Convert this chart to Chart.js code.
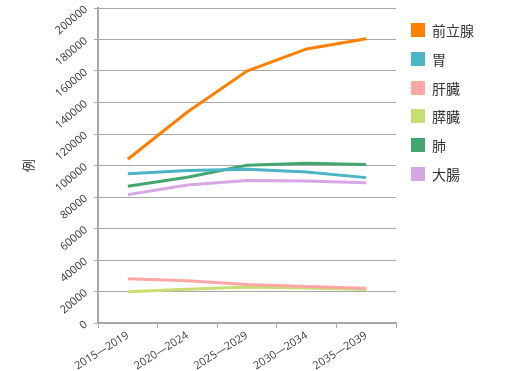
<!DOCTYPE html>
<html>
<head>
<meta charset="utf-8">
<script src="https://cdn.jsdelivr.net/npm/chart.js@4"></script>
<style>
  body { margin: 0; background: #fff; }
  #wrap { position: relative; width: 506px; height: 371px; }
  #legend { position: absolute; left: 411px; top: 22px; margin: 0; padding: 0; list-style: none;
            font-family: "Noto Sans CJK JP", "Noto Sans", sans-serif; font-size: 14px; color: #333; }
  #legend li { height: 28.8px; display: flex; align-items: flex-start; }
  #legend span.box { width: 14px; height: 14px; margin-right: 7px; margin-top: 1px; }
  #legend span.txt { line-height: 16px; }
</style>
</head>
<body>
<div id="wrap">
  <canvas id="chart" width="506" height="371"></canvas>
  <ul id="legend"></ul>
</div>
<script>
// categories and series (cases per period)
const periods = ['2015\u20142019', '2020\u20142024', '2025\u20142029', '2030\u20142034', '2035\u20142039'];
const seriesNames = ['前立腺', '胃', '肝臓', '膵臓', '肺', '大腸'];
const seriesColors = ['#ff8000', '#4bb5c5', '#ffa7a7', '#c6de72', '#44a66f', '#d7a7e5'];

const prostate = [104000, 134000, 160000, 174000, 180500];
const stomach = [94800, 96800, 97600, 95900, 92300];
const liver = [28100, 26900, 24500, 23100, 22000];
const pancreas = [19900, 21400, 22900, 22200, 21300];
const lung = [86800, 92500, 100200, 101400, 100700];
const colon = [81500, 87600, 90400, 90200, 89100];

const yTicks = { min: 0, max: 200000, step: 20000 };

const seriesValues = [prostate, stomach, liver, pancreas, lung, colon];
const gridColor = '#a8a8a8';
const tickFont = { family: '"Open Sans", sans-serif', size: 11 };

const ctx = document.getElementById('chart').getContext('2d');
const chart = new Chart(ctx, {
  type: 'line',
  data: {
    labels: periods,
    datasets: seriesNames.map((name, i) => ({
      label: name,
      data: seriesValues[i],
      borderColor: seriesColors[i],
      backgroundColor: seriesColors[i],
      borderWidth: 3,
      pointRadius: 0,
      tension: 0,
      fill: false
    }))
  },
  options: {
    responsive: false,
    animation: false,
    layout: { padding: { top: 8, right: 110, left: 0, bottom: 0 } },
    plugins: {
      legend: { display: false },
      tooltip: { enabled: false }
    },
    scales: {
      x: {
        offset: true,
        grid: { offset: true, drawOnChartArea: false, color: gridColor, tickLength: 5, lineWidth: 1 },
        border: { color: gridColor, width: 2 },
        ticks: { minRotation: 32, maxRotation: 32, color: '#3a3a3a', font: tickFont, padding: 1 },
        afterFit: scale => {
          scale.height = 48;
          scale.paddingLeft = 0;
          scale.paddingRight = 0;
        }
      },
      y: {
        min: yTicks.min,
        max: yTicks.max,
        grid: { color: gridColor, tickLength: 4, lineWidth: 1 },
        border: { color: gridColor, width: 2 },
        ticks: {
          stepSize: yTicks.step,
          minRotation: 40,
          maxRotation: 40,
          color: '#3a3a3a',
          font: tickFont,
          padding: 8,
          callback: value => String(value)
        },
        title: {
          display: true,
          text: '例',
          color: '#333',
          font: { family: '"Noto Sans CJK JP", sans-serif', size: 13 },
          padding: { top: 20, bottom: 0 }
        },
        afterFit: scale => {
          scale.width = 98;
          scale.paddingTop = 0;
          scale.paddingBottom = 0;
        }
      }
    }
  }
});

// legend on the right
const legend = document.getElementById('legend');
seriesNames.forEach((name, i) => {
  const li = document.createElement('li');
  li.innerHTML = `<span class="box" style="background:${seriesColors[i]}"></span><span class="txt">${name}</span>`;
  legend.appendChild(li);
});
</script>
</body>
</html>
